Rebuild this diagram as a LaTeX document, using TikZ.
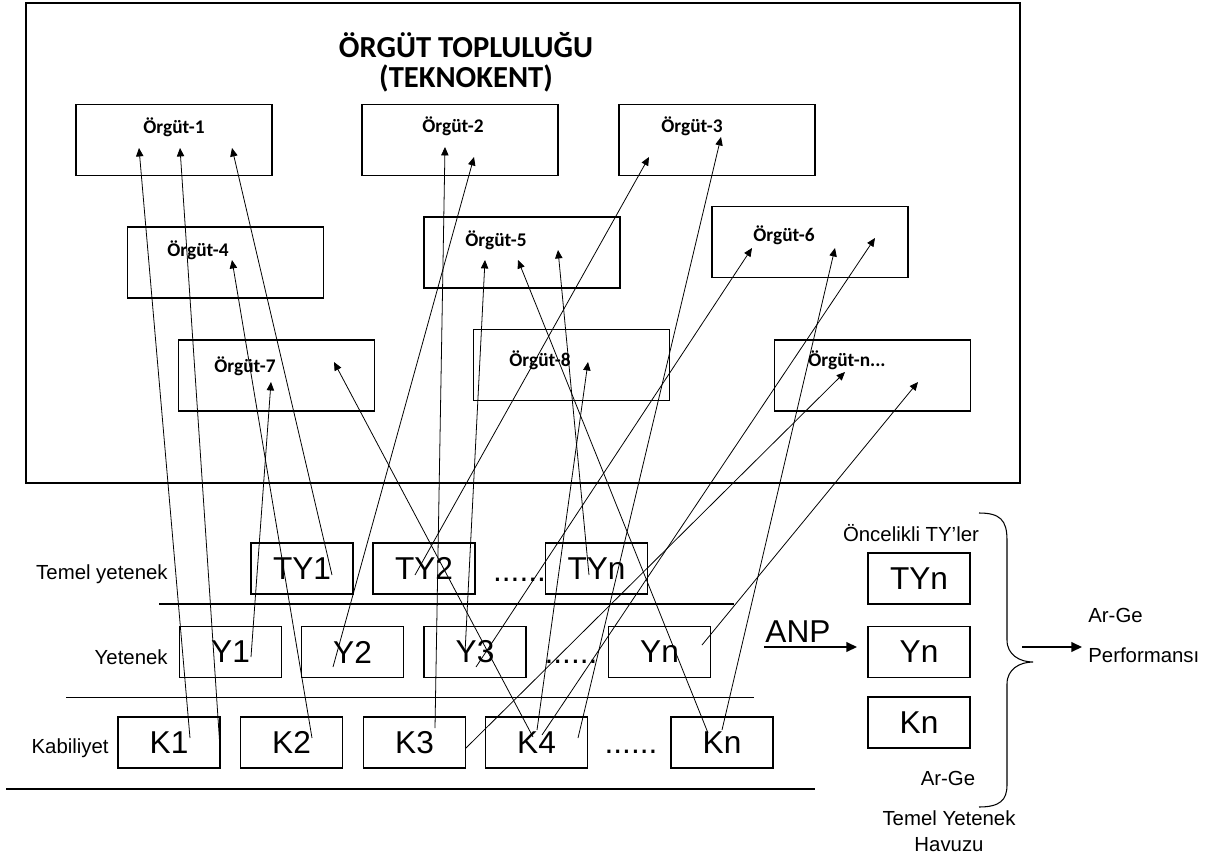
\documentclass[tikz,border=0pt]{standalone}
\usepackage{fontspec}
\setmainfont{Liberation Sans}
\newfontfamily\calfont{Carlito}
\usetikzlibrary{arrows.meta}

\begin{document}
\begin{tikzpicture}[x=0.02cm, y=-0.02cm, line width=0.4pt,
  orgbox/.style={draw, line width=0.7pt, minimum width=3.92cm, minimum height=1.42cm, inner sep=0pt},
  orgtext/.style={font=\calfont\bfseries\fontsize{11}{13}\selectfont, inner sep=0pt},
  tybox/.style={draw, line width=0.6pt, minimum width=2.04cm, minimum height=1.02cm, inner sep=0pt,
    font=\fontsize{18}{20}\selectfont},
  small/.style={font=\fontsize{11.6}{13}\selectfont, inner sep=0pt},
  dots/.style={font=\fontsize{18}{20}\selectfont, inner sep=0pt, anchor=base},
  conn/.style={-{Triangle[length=4.8pt,width=4.2pt]}, line width=0.45pt},
  bigarrow/.style={-{Triangle[length=6pt,width=5.5pt]}, line width=0.8pt}]
  \useasboundingbox (0,0) rectangle (1211,862);
  \draw[line width=0.8pt] (26,3) rectangle (1020,483);
  \node[font=\calfont\bfseries\fontsize{17.4}{17}\selectfont, inner sep=0pt, align=center, anchor=north]
    (title) at (466,32) {ÖRGÜT TOPLULUĞU\\(TEKNOKENT)};

  \node[orgbox] (o1) at (174,140) {};
  \node[orgbox] (o2) at (460,140) {};
  \node[orgbox] (o3) at (717,140) {};
  \node[orgbox] (o4) at (225.5,262.5) {};
  \node[orgbox] (o5) at (522,252.5) {};
  \node[orgbox] (o6) at (810,242) {};
  \node[orgbox] (o7) at (276.5,375.5) {};
  \node[orgbox] (o8) at (571.5,365) {};
  \node[orgbox] (on) at (872.5,375.5) {};
  \node[orgtext] (o1t) at (174,127) {Örgüt-1};
  \node[orgtext] (o2t) at (453,126) {Örgüt-2};
  \node[orgtext] (o3t) at (692,126) {Örgüt-3};
  \node[orgtext] (o4t) at (198,250) {Örgüt-4};
  \node[orgtext] (o5t) at (496,240) {Örgüt-5};
  \node[orgtext] (o6t) at (784,235) {Örgüt-6};
  \node[orgtext] (o7t) at (245,366) {Örgüt-7};
  \node[orgtext] (o8t) at (540,360) {Örgüt-8};
  \node[orgtext] (ont) at (847,360) {Örgüt-n...};

  \node[tybox] (ty1) at (302,568.5) {TY1};
  \node[tybox] (ty2) at (424,568.5) {TY2};
  \node[tybox] (tyn) at (596.5,568.5) {TYn};
  \node[tybox] (y1) at (230.5,652) {Y1};
  \node[tybox] (y2) at (352.5,652) {Y2};
  \node[tybox] (y3) at (475,652) {Y3};
  \node[tybox] (yn) at (659.5,652) {Yn};
  \node[tybox] (k1) at (169,742.5) {K1};
  \node[tybox] (k2) at (291.5,742.5) {K2};
  \node[tybox] (k3) at (414.5,742.5) {K3};
  \node[tybox] (k4) at (536.5,742.5) {K4};
  \node[tybox] (kn) at (722,742.5) {Kn};
  \node[dots] (tydots) at (519.5,581) {......};
  \node[dots] (ydots) at (571,663) {......};
  \node[dots] (kdots) at (631,753) {......};

  \node[small, anchor=east] (tylab) at (168,574) {Temel yetenek};
  \node[small, anchor=east] (ylab) at (168,657) {Yetenek};
  \node[small, anchor=east] (klab) at (109,748) {Kabiliyet};
  \draw[line width=0.6pt] (159,604) -- (734,604);
  \draw[line width=0.5pt] (66,697) -- (754,697);
  \draw[line width=0.9pt] (6,789) -- (815,789);

  \coordinate (o1a) at (139,148); \coordinate (o1b) at (180,148); \coordinate (o1c) at (232,148);
  \coordinate (o2a) at (445,147); \coordinate (o2b) at (474,157);
  \coordinate (o3a) at (649,157); \coordinate (o3b) at (721,137);
  \coordinate (o4a) at (232,260);
  \coordinate (o5a) at (485,260); \coordinate (o5b) at (518,260); \coordinate (o5c) at (558,250);
  \coordinate (o6a) at (752,248); \coordinate (o6b) at (835,248); \coordinate (o6c) at (875,238);
  \coordinate (o7a) at (271,382); \coordinate (o7b) at (334,362);
  \coordinate (o8a) at (588,362);
  \coordinate (ona) at (845,372); \coordinate (onb) at (918,382);

  \coordinate (k1a) at (190,738); \coordinate (k1b) at (220,748);
  \coordinate (k2a) at (312,738);
  \coordinate (k3a) at (435,728); \coordinate (k3b) at (466,748);
  \coordinate (k4a) at (533,737); \coordinate (k4b) at (537,730); \coordinate (k4c) at (578,738); \coordinate (k4d) at (542,735);
  \coordinate (kna) at (708,733); \coordinate (knb) at (722,730);
  \coordinate (y1a) at (251,657); \coordinate (y2a) at (333,667);
  \coordinate (y3a) at (465,653); \coordinate (y3b) at (476,667);
  \coordinate (yna) at (702,645);
  \coordinate (ty1a) at (332,575); \coordinate (ty2a) at (415,575); \coordinate (tyna) at (589,575);

  \draw[conn] (k1a) -- (o1a);
  \draw[conn] (k1b) -- (o1b);
  \draw[conn] (ty1a) -- (o1c);
  \draw[conn] (k3a) -- (o2a);
  \draw[conn] (y2a) -- (o2b);
  \draw[conn] (ty2a) -- (o3a);
  \draw[conn] (k4c) -- (o3b);
  \draw[conn] (k2a) -- (o4a);
  \draw[conn] (y3a) -- (o5a);
  \draw[conn] (kna) -- (o5b);
  \draw[conn] (tyna) -- (o5c);
  \draw[conn] (y3b) -- (o6a);
  \draw[conn] (knb) -- (o6b);
  \draw[conn] (k4d) -- (o6c);
  \draw[conn] (y1a) -- (o7a);
  \draw[conn] (k4a) -- (o7b);
  \draw[conn] (k4b) -- (o8a);
  \draw[conn] (k3b) -- (ona);
  \draw[conn] (yna) -- (onb);

  \node[font=\fontsize{18}{20}\selectfont, inner sep=0pt] (anp) at (798,632) {ANP};
  \coordinate (anpa) at (764,647); \coordinate (anpb) at (857,647);
  \draw[bigarrow] (anpa) -- (anpb);
  \node[small] (onc) at (911,533) {Öncelikli TY'ler};
  \node[tybox] (rtyn) at (919,578.5) {TYn};
  \node[tybox] (ryn) at (919,652) {Yn};
  \node[tybox] (rkn) at (919,722.5) {Kn};
  \node[small] (arge1) at (948,778) {Ar-Ge};
  \node[small] (havuz1) at (949,818) {Temel Yetenek};
  \node[small] (havuz2) at (949,845) {Havuzu};
  \draw[line width=0.6pt] (979,513) .. controls (1000,513) and (1007,520) .. (1007,540) -- (1007,640)
    .. controls (1007,655) and (1020,662) .. (1033,662)
    .. controls (1020,662) and (1007,669) .. (1007,684) -- (1007,785)
    .. controls (1007,800) and (1000,807) .. (979,807);
  \coordinate (perfa) at (1022,647); \coordinate (perfb) at (1082,647);
  \draw[bigarrow] (perfa) -- (perfb);
  \node[small, anchor=west] (arge2) at (1088,615) {Ar-Ge};
  \node[small, anchor=west] (perf) at (1088,655) {Performansı};
\end{tikzpicture}
\end{document}
